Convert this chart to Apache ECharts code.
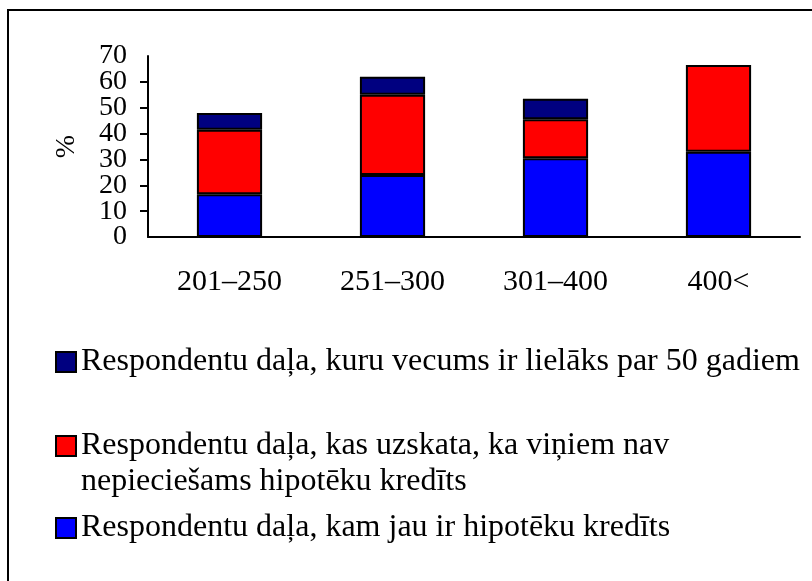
<!DOCTYPE html>
<html>
<head>
<meta charset="utf-8">
<script src="https://cdn.jsdelivr.net/npm/echarts@6/dist/echarts.min.js"></script>
<style>
    html, body { margin: 0; padding: 0; background: #fff; }
    #chart { width: 812px; height: 581px; }
</style>
</head>
<body>
<div id="chart"></div>
<script>
// income groups
const categories = ['201–250', '251–300', '301–400', '400<']
const seriesNames = [
    'Respondentu daļa, kam jau ir hipotēku kredīts',
    'Respondentu daļa, kas uzskata, ka viņiem nav\nnepieciešams hipotēku kredīts',
    'Respondentu daļa, kuru vecums ir lielāks par 50 gadiem'
]
const hasLoan = [16.5, 24, 30.5, 33]
const noNeed = [25, 31, 15, 33.5]
const over50 = [6.5, 7, 8, null]
const yTicks = [0, 10, 20, 30, 40, 50, 60, 70]

const font = "'Liberation Serif', 'Times New Roman', serif"
const colors = ['#0000ff', '#ff0000', '#000080']
const yMin = yTicks[0]
const yMax = yTicks[yTicks.length - 1]

const chart = echarts.init(document.getElementById('chart'))

const legendBase = {
    orient: 'vertical',
    left: 55,
    padding: 0,
    icon: 'rect',
    itemWidth: 20,
    itemHeight: 20,
    itemGap: 0,
    selectedMode: false,
    textStyle: { fontFamily: font, fontSize: 32, color: '#000', lineHeight: 36 }
}
const yLabel = { fontFamily: font, fontSize: 28, color: '#000', margin: 21 }

chart.setOption({
    animation: false,
    color: colors,
    graphic: [
        {
            type: 'rect',
            shape: { x: 8, y: 10, width: 900, height: 700 },
            style: { fill: 'none', stroke: '#000', lineWidth: 2 },
            silent: true
        }
    ],
    legend: [
        Object.assign({}, legendBase, { top: 344, data: [seriesNames[2]] }),
        // blank first line so the icon sits beside the first text line
        Object.assign({}, legendBase, { top: 392, data: [seriesNames[1]], formatter: name => '\n' + name }),
        Object.assign({}, legendBase, { top: 510, data: [seriesNames[0]] })
    ],
    grid: { left: 148, right: 12, top: 56, bottom: 344 },
    xAxis: {
        type: 'category',
        data: categories,
        axisLine: { lineStyle: { color: '#000', width: 2 } },
        axisTick: { length: 10, lineStyle: { color: '#000', width: 2 } },
        axisLabel: { fontFamily: font, fontSize: 30, color: '#000', margin: 30 }
    },
    yAxis: [
        {
            type: 'value',
            min: yMin,
            max: yMax,
            interval: 10,
            name: '%',
            nameLocation: 'middle',
            nameRotate: 90,
            nameGap: 67,
            nameTextStyle: { fontFamily: font, fontSize: 28, color: '#000' },
            splitLine: { show: false },
            axisLine: { show: true, lineStyle: { color: '#000', width: 2 } },
            axisTick: { show: true, length: 8, lineStyle: { color: '#000', width: 2 } },
            axisLabel: Object.assign({ showMinLabel: false, showMaxLabel: false }, yLabel)
        },
        {
            // carries only the end labels (0 and 70), which ECharts 6 otherwise drops
            type: 'value',
            position: 'left',
            offset: 0,
            min: yMin,
            max: yMax,
            interval: yMax - yMin,
            splitLine: { show: false },
            axisLine: { show: false },
            axisTick: { show: false },
            axisLabel: Object.assign({ showMinLabel: true, showMaxLabel: true }, yLabel)
        }
    ],
    series: [
        { name: seriesNames[0], data: hasLoan },
        { name: seriesNames[1], data: noNeed },
        { name: seriesNames[2], data: over50 }
    ].map(s => Object.assign(s, {
        type: 'bar',
        stack: 'total',
        yAxisIndex: 0,
        barWidth: '40%',
        itemStyle: { borderColor: '#000', borderWidth: 2 }
    }))
})
</script>
</body>
</html>
